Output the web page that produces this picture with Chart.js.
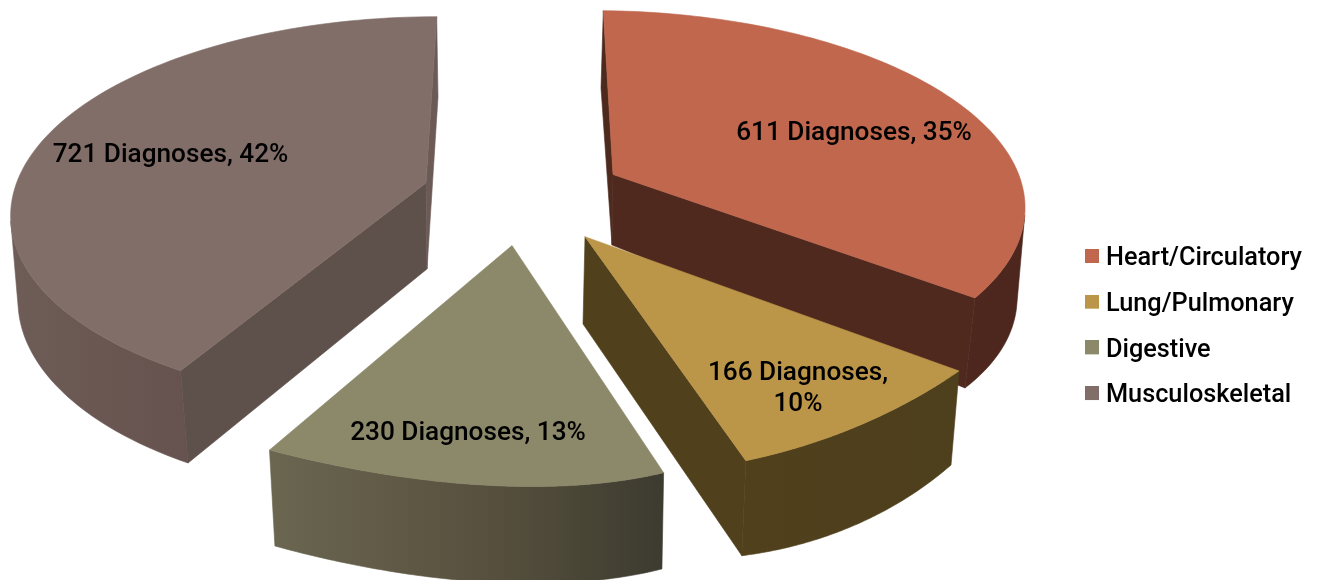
<!DOCTYPE html>
<html><head><meta charset="utf-8">
<style>html,body{margin:0;padding:0;background:#fff;overflow:hidden}canvas{display:block}</style>
<script src="https://cdn.jsdelivr.net/npm/chart.js@4/dist/chart.umd.js"></script>
</head><body><canvas id="c" width="1317" height="580"></canvas>
<script>
const categories = ['Heart/Circulatory','Lung/Pulmonary','Digestive','Musculoskeletal'];
const diagnoses = [611,166,230,721];
const topColors = ['#C0674D','#BC9648','#8C886A','#826E69'];
const FONT = 'Roboto';
const labelFont = '500 26.2px '+FONT;
const labelPlaces = [{x:854,y:140},{x:798,y:380,wrap:true},{x:468,y:440},{x:170.5,y:162}];

// projection of each exploded slice: unit-circle degrees (clockwise from 12 o'clock) -> page
function homography(src,dst){
  const A=[];
  for(let i=0;i<4;i++){const [u,v]=src[i],[x,y]=dst[i];
    A.push([u,v,1,0,0,0,-u*x,-v*x,x]);A.push([0,0,0,u,v,1,-u*y,-v*y,y]);}
  for(let c=0;c<8;c++){let p=c;for(let r=c;r<8;r++)if(Math.abs(A[r][c])>Math.abs(A[p][c]))p=r;
    [A[c],A[p]]=[A[p],A[c]];
    for(let r=0;r<8;r++)if(r!==c){const f=A[r][c]/A[c][c];for(let k=c;k<9;k++)A[r][k]-=f*A[c][k];}}
  const h=A.map((R,i)=>R[8]/R[i]);
  return (u,v)=>{const w=h[6]*u+h[7]*v+1;return [(h[0]*u+h[1]*v+h[2])/w,(h[3]*u+h[4]*v+h[5])/w];};
}
const unit=d=>[Math.sin(d*Math.PI/180),-Math.cos(d*Math.PI/180)];
function frame(degs,pts){return homography([[0,0],...degs.map(unit)],pts);}

const frames=[
 {degs:[0,127.3,99],top:[[613,174.5],[603.3,10.7],[975,298],[1025,205]],bot:[[612,245],[601,88],[965,388],[1017,293]]},
 {degs:[127.3,161.9,144.6],top:[[585,236.7],[959,371],[745.7,460.7],[853,428]],bot:[[583,324],[951,465],[741.7,555.7],[848,528]]},
 {degs:[161.9,209.8,185.9],top:[[512,245.5],[663.5,472.7],[269.4,450],[503.6,486]],bot:[[512,330],[661.8,569],[274.8,546],[504.6,583]]},
 {degs:[209.8,360,261],top:[[426,183],[180.5,370.7],[436.7,16.7],[10.7,212]],bot:[[427,269],[188,463],[438,97],[18,297]]}
];
frames.forEach(f=>{f.H=frame(f.degs,f.top);f.B=frame(f.degs,f.bot);});

const curvedWall=[
 {x0:600,x1:1025,stops:[[0,'#4F281E'],[1,'#4D271D']]},
 {x0:740,x1:960,stops:[[0,'#50401C'],[1,'#4E3F1D']]},
 {x0:270,x1:665,stops:[[0,'#6A6650'],[.5,'#5A5240'],[.78,'#4A4636'],[1,'#3C3B30']]},
 {x0:12,x1:190,stops:[[0,'#6E5C57'],[1,'#66524E']]}
];
const radialWall=[
 {start:'#4E2A1E',end:'#4F281E'},
 {start:'#4E3F1C',end:'#50401C'},
 {start:'#5A5240',end:'#5A5240'},
 {start:'#5E504B',end:'#6B5A55'}
];

function sweep(H,arc,n){
  const pts=[];const a=arc.startAngle+Math.PI/2,b=arc.endAngle+Math.PI/2;
  for(let i=0;i<=n;i++){const t=a+(b-a)*i/n;pts.push(H(Math.sin(t),-Math.cos(t)));}
  return pts;
}
function fillPoly(ctx,pts,style){
  ctx.beginPath();pts.forEach((p,i)=>i?ctx.lineTo(p[0],p[1]):ctx.moveTo(p[0],p[1]));ctx.closePath();
  ctx.fillStyle=style;ctx.strokeStyle=style;ctx.lineWidth=.6;ctx.fill();ctx.stroke();
}
const area=q=>{let s=0;for(let i=0;i<q.length;i++){const a=q[i],b=q[(i+1)%q.length];s+=a[0]*b[1]-b[0]*a[1];}return s/2;};

const pie3d={id:'pie3d',
 beforeDatasetDraw(chart,args){
  const ctx=chart.ctx;
  chart.getDatasetMeta(args.index).data.forEach((arc,i)=>{
    const f=frames[i],n=96,T=sweep(f.H,arc,n),B=sweep(f.B,arc,n);
    const cT=f.H(0,0),cB=f.B(0,0);
    const g=ctx.createLinearGradient(curvedWall[i].x0,0,curvedWall[i].x1,0);
    curvedWall[i].stops.forEach(s=>g.addColorStop(s[0],s[1]));
    // walls are drawn only when they face the viewer; the rim as one polygon per visible run
    let run=null;
    const flush=()=>{if(run){fillPoly(ctx,[...run.t,...run.b.reverse()],g);run=null;}};
    for(let k=0;k<n;k++){
      if(area([T[k],B[k],B[k+1],T[k+1]])>0){
        if(!run)run={t:[T[k]],b:[B[k]]};
        run.t.push(T[k+1]);run.b.push(B[k+1]);
      } else flush();
    }
    flush();
    const q1=[cT,cB,B[0],T[0]];if(area(q1)>0)fillPoly(ctx,q1,radialWall[i].start);
    const q2=[T[n],B[n],cB,cT];if(area(q2)>0)fillPoly(ctx,q2,radialWall[i].end);
    fillPoly(ctx,[cT,...T],topColors[i]);
  });
  return false;
 },
 afterDraw(chart){
  const ctx=chart.ctx;ctx.save();ctx.fillStyle='#000';ctx.textAlign='center';ctx.textBaseline='alphabetic';ctx.font=labelFont;
  const total=diagnoses.reduce((a,b)=>a+b,0);
  diagnoses.forEach((v,i)=>{const pct=Math.round(v/total*100)+'%';const L=labelPlaces[i];
    if(L.wrap){ctx.fillText(v+' Diagnoses,',L.x,L.y);ctx.fillText(pct,L.x,L.y+30.5);}
    else ctx.fillText(v+' Diagnoses, '+pct,L.x,L.y);});
  ctx.restore();
 }
};

function swatch(c){const s=document.createElement('canvas');s.width=14;s.height=20;const x=s.getContext('2d');x.fillStyle=c;x.fillRect(0,0,14,14);return s;}
new Chart(document.getElementById('c'),{
 type:'pie',
 data:{labels:categories,datasets:[{data:diagnoses,backgroundColor:topColors,borderWidth:0}]},
 options:{responsive:false,animation:false,devicePixelRatio:1,
  layout:{padding:{top:75,right:5}},
  plugins:{tooltip:{enabled:false},
   legend:{position:'right',labels:{
     padding:20.4,usePointStyle:true,pointStyleWidth:2,color:'#000',font:{family:FONT,size:25.3,weight:'500',lineHeight:1},
     generateLabels(chart){
       return Chart.controllers.pie.overrides.plugins.legend.labels.generateLabels(chart).map((l,i)=>({...l,pointStyle:swatch(topColors[i])}));
     }}}}
 },
 plugins:[pie3d]
});
</script></body></html>
